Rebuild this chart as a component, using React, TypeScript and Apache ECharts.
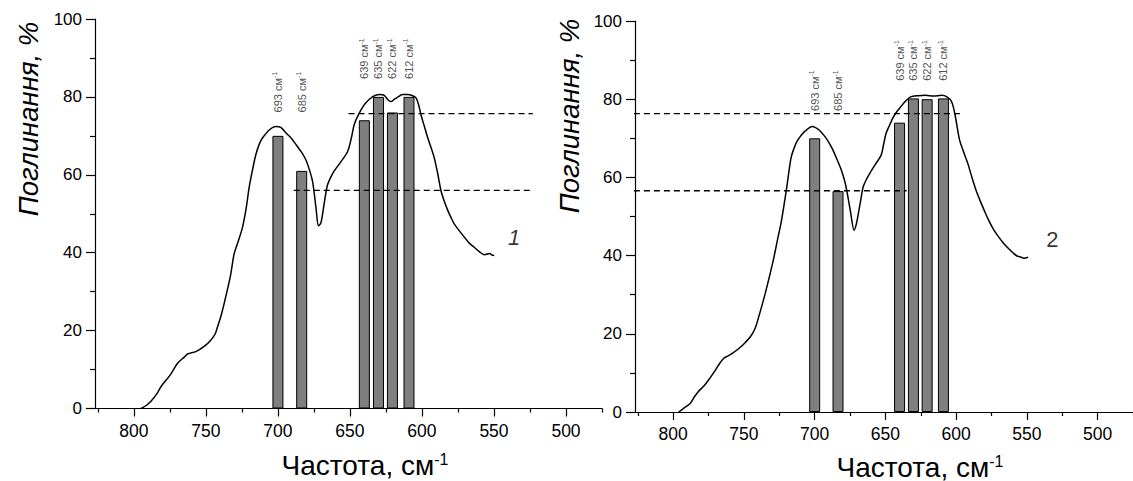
import React, { useEffect, useRef } from "react";
import * as echarts from "echarts";

// ---- data ----
const barFreq = [700, 683.5, 640, 630.2, 620.5, 609];
const barLabels = ["693", "685", "639", "635", "622", "612"];
const bars1 = [70, 61, 74, 80, 76, 80];
const bars2 = [70, 56.5, 74, 80.2, 80, 80.2];
const labelLevel1 = [76, 76, 84.6, 84.6, 84.6, 84.6];
const labelLevel2 = [77, 77, 84.7, 84.7, 84.7, 84.7];

const curve1: number[][] = [
  [795, 0], [791, 0.9], [788, 1.9], [784, 3.8], [781, 5.7], [775, 8.5], [769.7, 11.6],
  [765, 13.2], [762.7, 14], [757, 14.6], [751, 16], [746.5, 17.6], [743.5, 19.2],
  [741.9, 21], [739.5, 23.8], [737.3, 27], [733, 34], [730.4, 39.7], [727.5, 43],
  [724.6, 46.5], [722, 51.5], [720, 56.7], [717.5, 61.5], [715.3, 65.2], [712.8, 68],
  [710.6, 69.5], [706, 71.5], [701.4, 72.4], [698, 72.2], [694.5, 70.8], [691, 69.5],
  [687.5, 67.8], [684, 66], [681.5, 64.5], [679.4, 62.7], [676, 58.4], [673.6, 51.6],
  [671.8, 46.9], [670.2, 47.6], [669, 49.9], [667.3, 54], [665.5, 57.5], [663, 59.6],
  [660.9, 61], [656, 63.5], [651.6, 66], [649, 69.5], [647, 72.9], [644, 75.5],
  [640, 78], [636.5, 79.4], [633, 80.3], [629, 80.6], [626, 80.3], [623.5, 79.2],
  [621.5, 78.8], [619.2, 79.4], [617, 79.9], [613.5, 80.6], [610, 80.6], [606.5, 80.3],
  [604, 79.7], [602.2, 77.8], [600.7, 75.4], [598.3, 72.4], [596, 69.5], [593.7, 67],
  [591.5, 64.4], [589, 60.2], [586.8, 55.9], [584.3, 53], [582, 50.8], [579.8, 49],
  [577.6, 47.4], [574, 45.6], [570.6, 44], [567, 42.4], [563.7, 41.4], [560, 40.2],
  [556.7, 39.5], [553, 39.8], [551.5, 39.4], [549.8, 39.3]
];

const curve2: number[][] = [
  [796.1, 0], [792, 1.1], [788, 2.2], [785, 3.9], [782.3, 5.2], [778, 6.8],
  [774.2, 8.6], [770.5, 10.5], [767.2, 12.4], [764, 13.8], [761.5, 14.3], [757.5, 15.2],
  [753.4, 16.3], [749, 17.8], [745.3, 19.3], [742, 21.5], [739.5, 24.4], [737, 27.6],
  [734.9, 30.4], [732, 34.6], [729.2, 38.9], [726.3, 44], [723.4, 49.1], [720, 56.8],
  [718.2, 61.5], [716.5, 65.3], [714, 68], [711.9, 69.6], [707.2, 71.7], [701.5, 73],
  [696.8, 72.1], [694, 71], [691.1, 69.6], [687.5, 67.3], [684.1, 64.5], [681, 61.7],
  [678.4, 58.5], [676.5, 55], [674.9, 51.7], [672.1, 46.5], [670.6, 48], [669.1, 50.8],
  [667.3, 54.5], [665.7, 57.6], [663.3, 59.6], [661.1, 61], [657, 63.4], [653, 65.7],
  [651.2, 68.6], [649.5, 71.3], [647, 73.4], [644.9, 75.1], [642, 76.8], [639.1, 78.1],
  [635.5, 79.6], [632.2, 80.6], [627, 80.9], [621.8, 81], [616, 80.8], [610.3, 81],
  [606.5, 80.6], [603.3, 79.4], [601, 76.4], [597.6, 69.6], [594.7, 66.5], [591.8, 63.6],
  [589, 60.2], [586, 56.8], [583, 54], [580.3, 51.7], [577, 49], [573.3, 46.5],
  [570, 44.8], [566.4, 43.1], [563, 41.8], [559.5, 40.6], [557, 39.9], [554.9, 39.7],
  [552, 39.3], [549.1, 39.6]
];

const dash1Upper = [[651, 75.7], [523, 75.7]];
const dash1Lower = [[689, 56], [523, 56]];
const dash2Upper = [[849, 76.3], [596, 76.3]];
const dash2Lower = [[849, 56.6], [635, 56.6]];

const curveTag1 = [[536, 44]];
const curveTag2 = [[532, 44]];

const xMajorTicks = [500, 550, 600, 650, 700, 750, 800];
const xMinorTicks = [475, 525, 575, 625, 675, 725, 775, 825];

const FONT = "'Liberation Sans', Arial, sans-serif";

function buildAxes(gi: number) {
  const xMain = {
    type: "value",
    gridIndex: gi,
    position: "bottom",
    min: 475,
    max: 827,
    inverse: true,
    interval: 25,
    splitLine: { show: false },
    axisLine: { show: true, onZero: false, lineStyle: { color: "#000", width: 1.2 } },
    axisTick: { show: true, length: 8, customValues: xMajorTicks, lineStyle: { color: "#000", width: 1.2 } },
    axisLabel: {
      show: true,
      customValues: xMajorTicks,
      margin: 13,
      color: "#000",
      fontSize: 17.5,
      fontFamily: FONT,
    },
  };
  const xMinor = {
    type: "value",
    gridIndex: gi,
    position: "bottom",
    min: 475,
    max: 827,
    inverse: true,
    interval: 25,
    splitLine: { show: false },
    axisLine: { show: false, onZero: false },
    axisTick: { show: true, length: 4, customValues: xMinorTicks, lineStyle: { color: "#000", width: 1.2 } },
    axisLabel: { show: false },
  };
  const y = {
    type: "value",
    gridIndex: gi,
    min: 0,
    max: 100,
    interval: 20,
    splitLine: { show: false },
    axisLine: { show: true, onZero: false, lineStyle: { color: "#000", width: 1.2 } },
    axisTick: { show: true, length: 9, lineStyle: { color: "#000", width: 1.2 } },
    minorTick: { show: true, splitNumber: 2, length: 5, lineStyle: { color: "#000", width: 1.2 } },
    axisLabel: { margin: 13, color: "#000", fontSize: 17, fontFamily: FONT },
  };
  return { xMain, xMinor, y };
}

function buildSeries(
  gi: number,
  bars: number[],
  curve: number[][],
  dashU: number[][],
  dashL: number[][],
  levels: number[],
  tag: number[][],
  tagText: string,
  tagItalic: boolean
) {
  const xi = gi * 2;
  const yi = gi;
  const dashStyle = { color: "#000", width: 1.4, type: [6, 4] };
  return [
    {
      type: "bar",
      xAxisIndex: xi,
      yAxisIndex: yi,
      barWidth: 11,
      data: barFreq.map((f, k) => [f, bars[k]]),
      itemStyle: { color: "#7f7f7f", borderColor: "#000", borderWidth: 1 },
      z: 2,
    },
    {
      type: "line",
      xAxisIndex: xi,
      yAxisIndex: yi,
      data: curve,
      symbol: "none",
      smooth: 0.3,
      lineStyle: { color: "#000", width: 1.5 },
      z: 5,
    },
    {
      type: "line",
      xAxisIndex: xi,
      yAxisIndex: yi,
      data: dashU,
      symbol: "none",
      clip: false,
      lineStyle: dashStyle,
      z: 4,
    },
    {
      type: "line",
      xAxisIndex: xi,
      yAxisIndex: yi,
      data: dashL,
      symbol: "none",
      clip: false,
      lineStyle: dashStyle,
      z: 4,
    },
    {
      type: "scatter",
      xAxisIndex: xi,
      yAxisIndex: yi,
      symbolSize: 0,
      clip: false,
      silent: true,
      data: barFreq.map((f, k) => [f, levels[k], barLabels[k]]),
      label: {
        show: true,
        position: "inside",
        rotate: 90,
        align: "left",
        verticalAlign: "middle",
        formatter: (p: any) => `{n|${p.data[2]} см}{s|-1}`,
        rich: {
          n: { fontSize: 11, color: "#222", fontFamily: FONT, lineHeight: 13 },
          s: { fontSize: 7, color: "#222", fontFamily: FONT, verticalAlign: "top", lineHeight: 13 },
        },
      },
      z: 6,
    },
    {
      type: "scatter",
      xAxisIndex: xi,
      yAxisIndex: yi,
      symbolSize: 0,
      silent: true,
      data: tag,
      label: {
        show: true,
        position: "inside",
        formatter: tagText,
        fontSize: 22,
        fontStyle: tagItalic ? "italic" : "normal",
        color: "#000",
        fontFamily: FONT,
      },
      z: 6,
    },
  ];
}

export default function App() {
  const ref = useRef<HTMLDivElement>(null);
  useEffect(() => {
    if (!ref.current) return;
    const chart = echarts.init(ref.current, undefined, { renderer: "svg" });
    const a0 = buildAxes(0);
    const a1 = buildAxes(1);
    const xTitleRich = {
      a: { fontSize: 28, fontFamily: FONT, color: "#000" },
      b: { fontSize: 16, fontFamily: FONT, color: "#000", verticalAlign: "top" },
    };
    const yTitleStyle = {
      text: "Поглинання, %",
      fontSize: 27.5,
      fontStyle: "italic",
      fontFamily: FONT,
      fill: "#000",
      align: "center",
      verticalAlign: "middle",
    };
    chart.setOption({
      animation: false,
      backgroundColor: "#fff",
      grid: [
        { left: 95, top: 19, width: 507, height: 389.5, containLabel: false },
        { left: 635, top: 21, width: 507, height: 391, containLabel: false },
      ],
      xAxis: [a0.xMain, a0.xMinor, a1.xMain, a1.xMinor],
      yAxis: [a0.y, a1.y],
      series: [
        ...buildSeries(0, bars1, curve1, dash1Upper, dash1Lower, labelLevel1, curveTag1, "1", true),
        ...buildSeries(1, bars2, curve2, dash2Upper, dash2Lower, labelLevel2, curveTag2, "2", false),
      ],
      graphic: [
        { type: "text", x: 28, y: 119, rotation: Math.PI / 2, style: yTitleStyle },
        { type: "text", x: 569, y: 116, rotation: Math.PI / 2, style: yTitleStyle },
        {
          type: "text",
          x: 365,
          y: 465,
          style: { text: "{a|Частота, см}{b|-1}", rich: xTitleRich, align: "center", verticalAlign: "middle" },
        },
        {
          type: "text",
          x: 920,
          y: 467,
          style: { text: "{a|Частота, см}{b|-1}", rich: xTitleRich, align: "center", verticalAlign: "middle" },
        },
      ],
    });
    return () => chart.dispose();
  }, []);
  return (
    <div
      ref={ref}
      style={{ position: "absolute", left: 0, top: 0, width: 1133, height: 481, background: "#fff" }}
    />
  );
}
